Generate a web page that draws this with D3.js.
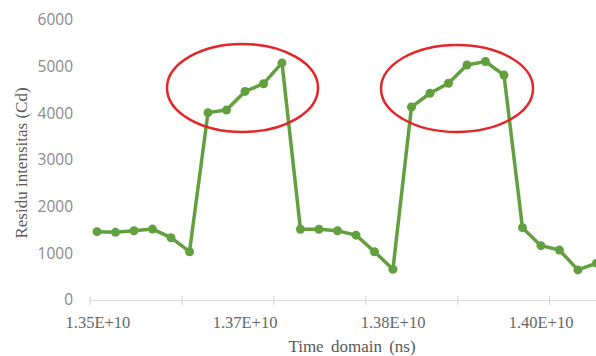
<!DOCTYPE html>
<html>
<head>
<meta charset="utf-8">
<script src="https://cdn.jsdelivr.net/npm/d3@7"></script>
<style>
  html, body { margin: 0; padding: 0; background: #fff; overflow: hidden; }
  svg { display: block; }
</style>
</head>
<body>
<svg id="chart" width="596" height="356"></svg>
<script>
// ---- data ----
const times = [
  1.35082e10, 1.35283e10, 1.35484e10, 1.35685e10, 1.35887e10, 1.36088e10,
  1.36289e10, 1.36490e10, 1.36692e10, 1.36893e10, 1.37094e10,
  1.37295e10, 1.37496e10, 1.37698e10, 1.37899e10, 1.38100e10, 1.38301e10,
  1.38503e10, 1.38704e10, 1.38905e10, 1.39106e10, 1.39307e10, 1.39509e10,
  1.39710e10, 1.39911e10, 1.40112e10, 1.40313e10, 1.40515e10
];
const residu = [
  1465, 1450, 1485, 1520, 1335, 1035,
  4015, 4070, 4470, 4635, 5080,
  1515, 1515, 1485, 1390, 1035, 660,
  4135, 4430, 4645, 5035, 5110, 4820,
  1550, 1165, 1070, 645, 790
];
const yTicks = [0, 1000, 2000, 3000, 4000, 5000, 6000];
const xTickMarks = [1.35e10, 1.36e10, 1.37e10, 1.38e10, 1.39e10, 1.40e10];
const xLabelValues = [1.35092e10, 1.36692e10, 1.38302e10, 1.39912e10];
const xLabelTexts = ["1.35E+10", "1.37E+10", "1.38E+10", "1.40E+10"];
// highlighted regions (time range, intensity range)
const highlightT0 = [1.358431e10, 1.381712e10];
const highlightT1 = [1.374858e10, 1.398249e10];
const highlightV0 = [3600, 3600];
const highlightV1 = [5486, 5464];

// ---- chart ----
const svg = d3.select("#chart");
const x = d3.scaleLinear().domain([1.35e10, 1.4051e10]).range([89.5, 596]);
const y = d3.scaleLinear().domain([0, 6000]).range([300, 20]);

// x axis line + tick marks
const xAxis = d3.axisBottom(x).tickValues(xTickMarks).tickFormat("").tickSizeOuter(0).tickSizeInner(5);
const gx = svg.append("g").attr("transform", "translate(0,300)").call(xAxis);
gx.select(".domain").attr("stroke", "#d9d9d9").attr("stroke-width", 1.2);
gx.selectAll(".tick line").attr("stroke", "#d9d9d9").attr("stroke-width", 1.2).attr("y1", -4).attr("y2", 5);

// x labels
svg.append("g").selectAll("text").data(xLabelValues).join("text")
  .attr("x", d => x(d)).attr("y", 328)
  .attr("text-anchor", "middle")
  .attr("font-family", "'Liberation Serif', 'Times New Roman', serif")
  .attr("font-size", 16.5).attr("fill", "#666")
  .text((d, i) => xLabelTexts[i]);

// y axis labels
const yAxis = d3.axisLeft(y).tickValues(yTicks).tickFormat(d3.format("d")).tickSize(0).tickPadding(0);
const gy = svg.append("g").attr("transform", "translate(73,0)").call(yAxis);
gy.select(".domain").remove();
gy.selectAll(".tick text")
  .attr("font-family", "'Open Sans', 'Liberation Sans', sans-serif")
  .attr("font-size", 15.5).attr("fill", "#8a8a8a");

// axis titles
svg.append("text").attr("x", 352).attr("y", 352).attr("text-anchor", "middle")
  .attr("font-family", "'Liberation Serif', 'Times New Roman', serif")
  .attr("font-size", 17).attr("fill", "#595959").attr("word-spacing", 3)
  .text("Time domain (ns)");
svg.append("text").attr("transform", "translate(27,163) rotate(-90)")
  .attr("text-anchor", "middle")
  .attr("font-family", "'Liberation Serif', 'Times New Roman', serif")
  .attr("font-size", 17).attr("fill", "#595959")
  .text("Residu intensitas (Cd)");

// line + markers
const pts = times.map((t, i) => [t, residu[i]]);
const line = d3.line().x(d => x(d[0])).y(d => y(d[1]));
svg.append("path").datum(pts).attr("d", line)
  .attr("fill", "none").attr("stroke", "#62a03f").attr("stroke-width", 3.5)
  .attr("stroke-linejoin", "round");
svg.append("g").selectAll("circle").data(pts).join("circle")
  .attr("cx", d => x(d[0])).attr("cy", d => y(d[1])).attr("r", 4.5)
  .attr("fill", "#62a03f");

// highlight ellipses
svg.append("g").selectAll("ellipse").data(highlightT0).join("ellipse")
  .attr("cx", (d, i) => (x(highlightT0[i]) + x(highlightT1[i])) / 2)
  .attr("cy", (d, i) => (y(highlightV0[i]) + y(highlightV1[i])) / 2)
  .attr("rx", (d, i) => (x(highlightT1[i]) - x(highlightT0[i])) / 2)
  .attr("ry", (d, i) => (y(highlightV0[i]) - y(highlightV1[i])) / 2)
  .attr("fill", "none").attr("stroke", "#e3262a").attr("stroke-width", 2.5);
</script>
</body>
</html>
